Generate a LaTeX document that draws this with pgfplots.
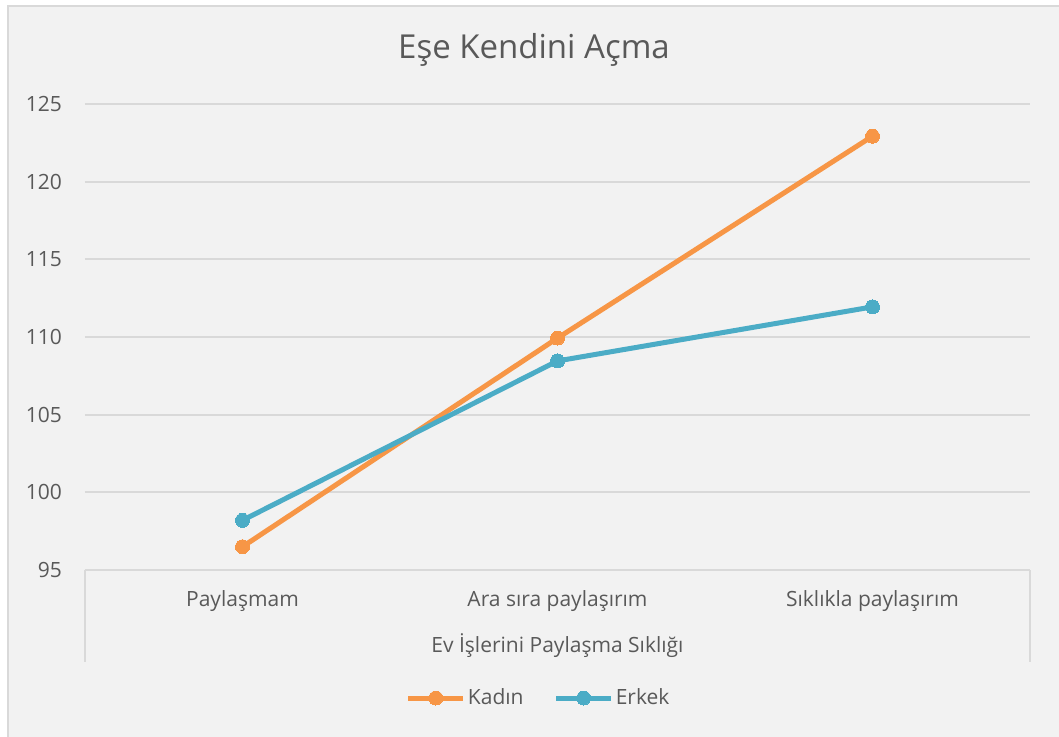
\documentclass[border=0pt]{standalone}
\usepackage{pgfplots}
\pgfplotsset{compat=1.18}
\usepackage{fontspec}
\setmainfont{Open Sans}
\definecolor{bgc}{HTML}{F2F2F2}
\definecolor{gridc}{HTML}{D9D9D9}
\definecolor{txt}{HTML}{595959}
\definecolor{kadin}{HTML}{F79646}
\definecolor{erkek}{HTML}{4BACC6}
\begin{document}
\begin{tikzpicture}
\useasboundingbox (0,0) rectangle (529.5pt,368pt);
\fill[white] (0,0) rectangle (529.5pt,368pt);
\draw[gridc, line width=1pt, fill=bgc] (4pt,-5pt) rectangle (535pt,365pt);
\begin{axis}[
  at={(42.5pt,83pt)}, anchor=south west,
  scale only axis, width=472.5pt, height=233pt,
  xmin=-0.5, xmax=2.5, ymin=95, ymax=125,
  xtick={0,1,2}, xticklabels={Paylaşmam, Ara sıra paylaşırım, Sıklıkla paylaşırım},
  ytick={95,100,...,125},
  axis line style={draw=none},
  major tick length=0pt,
  ymajorgrids, grid style={gridc, line width=0.9pt},
  /pgf/number format/assume math mode=true,
  ticklabel style={font=\fontsize{10.5}{12}\selectfont, text=txt},
  yticklabel style={anchor=east, xshift=-8pt},
  xticklabel style={anchor=center, yshift=-15.5pt},
  xlabel={Ev İşlerini Paylaşma Sıklığı},
  xlabel style={at={(axis description cs:0.5,-0.163)}, anchor=center, font=\fontsize{10.5}{12}\selectfont, text=txt},
  legend style={at={(0.48,-0.2747)}, anchor=center, draw=none, fill=none,
    font=\fontsize{10.5}{12}\selectfont, text=txt,
    /tikz/every even column/.append style={column sep=14pt},
    nodes={inner sep=1pt}},
  legend columns=2,
  legend image code/.code={\draw[mark repeat=2,mark phase=2,#1] plot coordinates {(0cm,0cm) (0.485cm,0cm) (0.97cm,0cm)};},
  clip=false,
]
\addplot[kadin, line width=2.5pt, mark=*, mark size=3.5pt, mark options={solid, fill=kadin, draw=kadin, line width=0pt}]
  coordinates {(0,96.5) (1,109.93) (2,122.93)};
\addlegendentry{Kadın}
\addplot[erkek, line width=2.5pt, mark=*, mark size=3.5pt, mark options={solid, fill=erkek, draw=erkek, line width=0pt}]
  coordinates {(0,98.2) (1,108.46) (2,111.94)};
\addlegendentry{Erkek}
\end{axis}
\draw[gridc, line width=0.9pt] (42.5pt,83pt) -- (42.5pt,37pt);
\draw[gridc, line width=0.9pt] (515pt,83pt) -- (515pt,37pt);
\node[text=txt, font=\fontsize{16.5}{20}\selectfont] at (267pt,343pt) {Eşe Kendini Açma};
\end{tikzpicture}
\end{document}
